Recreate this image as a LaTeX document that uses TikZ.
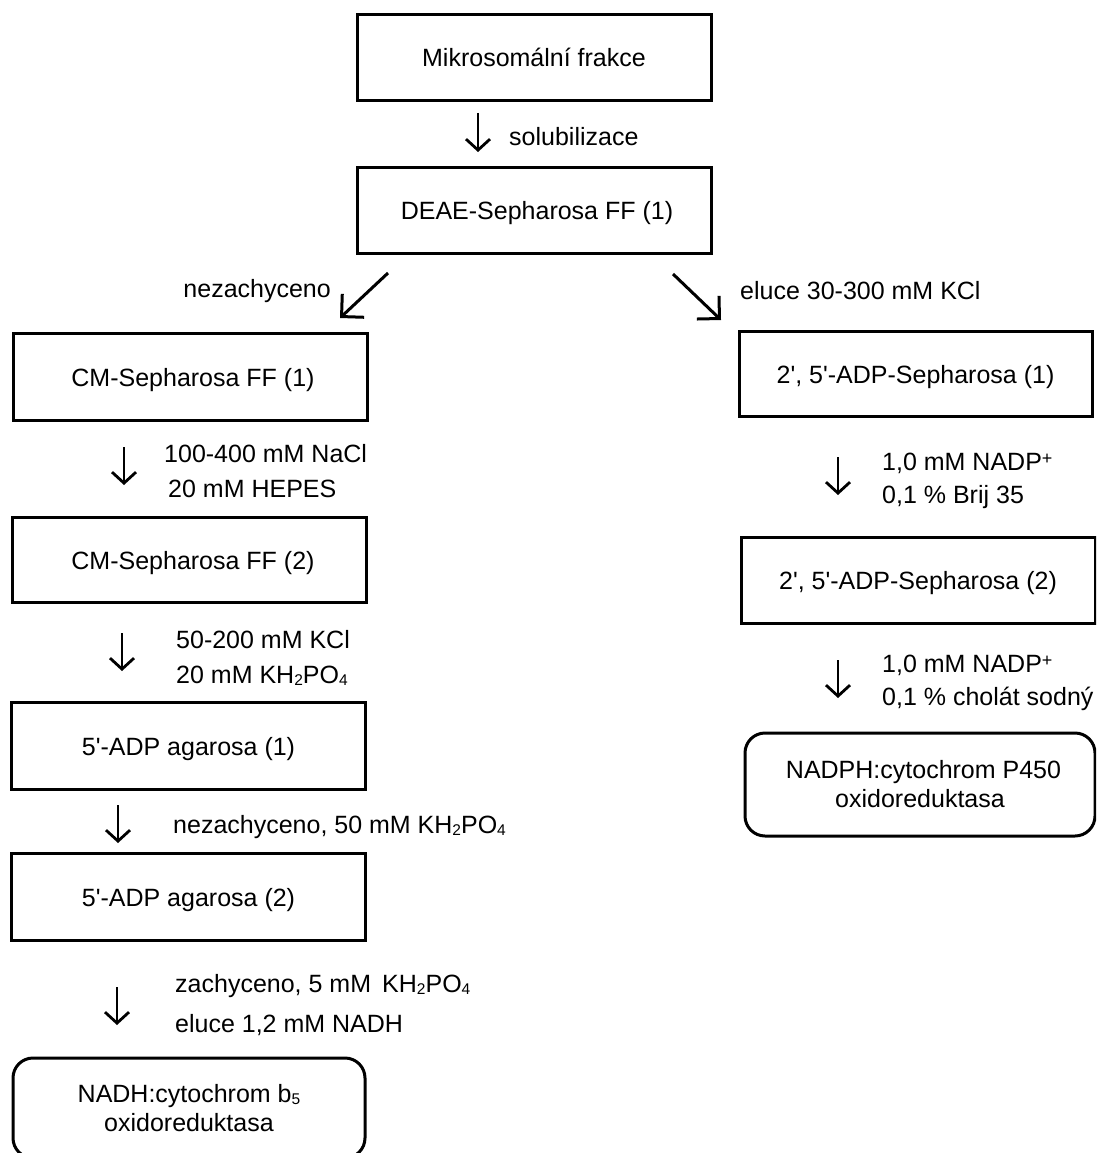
\documentclass[tikz,border=0pt]{standalone}
\usepackage{fontspec}
\setmainfont{Liberation Sans}
\usetikzlibrary{arrows.meta}
\newcommand{\mysub}[1]{\raisebox{-2.5pt}{\fontsize{15.5}{15.5}\selectfont #1}}
\newcommand{\mysup}[1]{\raisebox{6pt}{\fontsize{18}{18}\selectfont #1}}
\newcommand{\sq}{\textquotesingle}
\begin{document}
\begin{tikzpicture}[x=1pt,y=-1pt,
  txt/.style={font=\fontsize{25}{29}\selectfont, inner sep=0pt},
  stepbox/.style={draw, line width=3pt, minimum width=354pt, minimum height=86pt, inner sep=0pt,
    font=\fontsize{25}{29}\selectfont, text height=19pt, text depth=0pt},
  endbox/.style={draw, line width=3pt, rounded corners=20pt, align=center, inner sep=0pt,
    font=\fontsize{25}{29}\selectfont},
  vflow/.style={line width=2.8pt, -{Straight Barb[length=11pt,width=24pt]}},
  dflow/.style={line width=3pt, -{Straight Barb[length=16pt,width=32pt]}}
]
\fill[white] (0,0) rectangle (1096,1153);
\useasboundingbox (0,0) rectangle (1096,1153);
\clip (0,0) rectangle (1096,1153);

% boxes
\node[stepbox] (b1) at (534,57.5) {Mikrosomální frakce};
\node[stepbox] (b2) at (534,210) {\hspace*{6pt}DEAE-Sepharosa FF (1)};
\node[stepbox, minimum height=87pt] (b3) at (190,376.5) {\hspace*{6pt}CM-Sepharosa FF (1)};
\node[stepbox, minimum height=85pt] (b4) at (189,559.5) {\hspace*{8pt}CM-Sepharosa FF (2)};
\node[stepbox, minimum height=87pt] (b5) at (188.5,745.5) {5\sq-ADP agarosa (1)};
\node[stepbox, minimum height=87pt] (b6) at (188.5,897) {5\sq-ADP agarosa (2)};
\node[endbox, minimum width=352pt, minimum height=100pt] (b7) at (189,1108)
  {NADH:cytochrom b\mysub{5}\\oxidoreduktasa};
\node[stepbox, minimum width=353pt, minimum height=85pt] (b8) at (915.5,373.5) {2\sq, 5\sq-ADP-Sepharosa (1)};
\node[stepbox] (b9) at (918,580) {2\sq, 5\sq-ADP-Sepharosa (2)};
\node[endbox, minimum width=350pt, minimum height=103pt] (b10) at (920,784.5)
  {\hspace*{7pt}NADPH:cytochrom P450\\oxidoreduktasa};

% arrows
\coordinate (a1s) at (478,113); \coordinate (a1e) at (478,152);
\draw[vflow] (a1s) -- (a1e);
\coordinate (a2s) at (388,273); \coordinate (a2e) at (340,318);
\draw[dflow] (a2s) -- (a2e);
\coordinate (a3s) at (673,274); \coordinate (a3e) at (721,320);
\draw[dflow] (a3s) -- (a3e);
\coordinate (a4s) at (124,447); \coordinate (a4e) at (124,485);
\draw[vflow] (a4s) -- (a4e);
\coordinate (a5s) at (122,633); \coordinate (a5e) at (122,671);
\draw[vflow] (a5s) -- (a5e);
\coordinate (a6s) at (118,805); \coordinate (a6e) at (118,843);
\draw[vflow] (a6s) -- (a6e);
\coordinate (a7s) at (117,987); \coordinate (a7e) at (117,1025);
\draw[vflow] (a7s) -- (a7e);
\coordinate (a8s) at (838,457); \coordinate (a8e) at (838,495);
\draw[vflow] (a8s) -- (a8e);
\coordinate (a9s) at (838,660); \coordinate (a9e) at (838,698);
\draw[vflow] (a9s) -- (a9e);

% labels
\node[txt, anchor=base west] (l1) at (509,145) {solubilizace};
\node[txt, anchor=base east] (l2) at (331,297) {nezachyceno};
\node[txt, anchor=base west] (l3) at (740,299) {eluce 30-300 mM KCl};
\node[txt, anchor=base west] (l4a) at (164,462) {100-400 mM NaCl};
\node[txt, anchor=base west] (l4b) at (168,497) {20 mM HEPES};
\node[txt, anchor=base west] (l5a) at (176,648) {50-200 mM KCl};
\node[txt, anchor=base west] (l5b) at (176,683) {20 mM KH\mysub{2}PO\mysub{4}};
\node[txt, anchor=base west] (l6) at (173,833) {nezachyceno, 50 mM KH\mysub{2}PO\mysub{4}};
\node[txt, anchor=base west] (l7a) at (175,992) {zachyceno, 5 mM\, KH\mysub{2}PO\mysub{4}};
\node[txt, anchor=base west] (l7b) at (175,1032) {eluce 1,2 mM NADH};
\node[txt, anchor=base west] (l8a) at (882,470) {1,0 mM NADP\mysup{+}};
\node[txt, anchor=base west] (l8b) at (882,503) {0,1 \% Brij 35};
\node[txt, anchor=base west] (l9a) at (882,672) {1,0 mM NADP\mysup{+}};
\node[txt, anchor=base west] (l9b) at (882,705) {0,1 \% cholát sodný};
\end{tikzpicture}
\end{document}
